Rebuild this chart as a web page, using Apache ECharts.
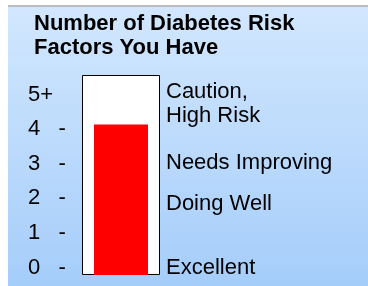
<!DOCTYPE html>
<html>
<head>
<meta charset="utf-8">
<script src="https://cdn.jsdelivr.net/npm/echarts@6/dist/echarts.min.js"></script>
<style>
  body { margin: 0; background: #fff; }
  #panel {
    position: absolute; left: 8px; top: 5px; width: 360px; height: 279px;
    border-top: 2px solid #bcbcbc;
    background: linear-gradient(#d2e7fe, #a5cdfa);
  }
  #main { position: absolute; left: 0; top: 0; width: 368px; height: 286px; }
</style>
</head>
<body>
<div id="panel"></div>
<div id="main"></div>
<script>
// scale labels on the left, one per whole number of risk factors
var scaleLabels = ['0   -', '1   -', '2   -', '3   -', '4   -', '5+'];
// top of the thermometer tube
var scaleMax = 5.78;
// the reading shown in red
var riskScore = [4.35];
// zone names on the right and the level each one sits at
var zoneNames = ['Excellent', 'Doing Well', 'Needs Improving', 'Caution,\nHigh Risk'];
var zoneLevels = [0.2, 2.05, 3.25, 4.95];

var font = "'Liberation Sans', Arial, sans-serif";
var myChart = echarts.init(document.getElementById('main'));

var option = {
  backgroundColor: 'transparent',
  animation: false,
  title: {
    text: 'Number of Diabetes Risk\nFactors You Have',
    left: 34,
    top: 12,
    padding: 0,
    textStyle: {
      fontFamily: font,
      fontSize: 22,
      fontWeight: 'bold',
      lineHeight: 24,
      color: '#000'
    }
  },
  grid: { left: 82, right: 208, top: 75, bottom: 11 },
  xAxis: [
    { type: 'category', data: ['tube'], show: false },
    { type: 'category', data: ['tube'], show: false }
  ],
  yAxis: [
    {
      type: 'value',
      position: 'left',
      min: 0,
      max: scaleMax,
      interval: 1,
      axisLine: { show: false },
      axisTick: { show: false },
      splitLine: { show: false },
      axisLabel: {
        align: 'left',
        verticalAlign: 'bottom',
        lineHeight: 15,
        margin: 54,
        fontFamily: font,
        fontSize: 22,
        color: '#000',
        formatter: function (v) {
          return scaleLabels[v] !== undefined ? scaleLabels[v] : '';
        }
      }
    },
    {
      type: 'value',
      position: 'right',
      min: 0,
      max: scaleMax,
      axisLine: { show: false },
      axisTick: { show: false },
      splitLine: { show: false },
      axisLabel: {
        customValues: zoneLevels,
        align: 'left',
        margin: 6,
        fontFamily: font,
        fontSize: 22,
        lineHeight: 24,
        color: '#000',
        formatter: function (v) {
          var i = zoneLevels.indexOf(v);
          return i >= 0 ? zoneNames[i] : '';
        }
      }
    }
  ],
  series: [
    {
      name: 'tube',
      type: 'bar',
      xAxisIndex: 0,
      yAxisIndex: 0,
      barWidth: '100%',
      silent: true,
      itemStyle: { color: '#fff', borderColor: '#000', borderWidth: 1 },
      data: [scaleMax]
    },
    {
      name: 'risk',
      type: 'bar',
      xAxisIndex: 1,
      yAxisIndex: 0,
      barWidth: 54,
      itemStyle: { color: '#ff0000' },
      data: riskScore
    }
  ]
};

option && myChart.setOption(option);
</script>
</body>
</html>
